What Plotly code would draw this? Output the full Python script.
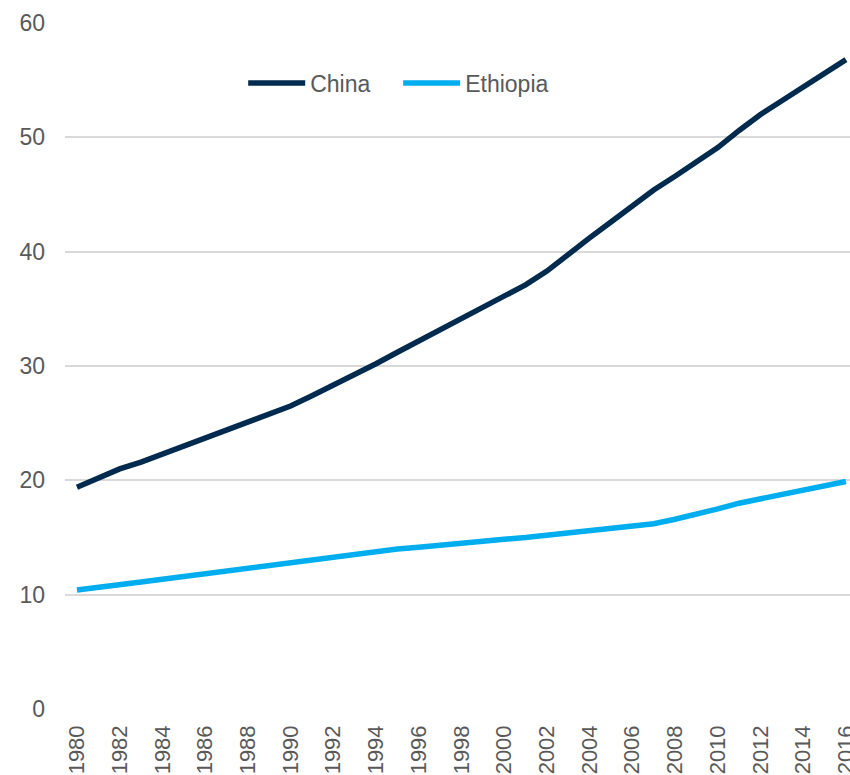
import plotly.graph_objects as go

years = list(range(1980, 2017))
china = [19.4, 20.2, 21.0, 21.6, 22.3, 23.0, 23.7, 24.4, 25.1, 25.8,
         26.5, 27.4, 28.3, 29.3, 30.2, 31.2, 32.2, 33.2, 34.2, 35.2,
         36.1, 37.1, 38.3, 39.8, 41.2, 42.6, 44.0, 45.4, 46.6, 47.8,
         49.1, 50.6, 52.0, 53.2, 54.4, 55.6, 56.8]
ethiopia = [10.4, 10.6, 10.85, 11.1, 11.35, 11.6, 11.85, 12.1, 12.35, 12.6,
            12.85, 13.1, 13.35, 13.55, 13.8, 14.0, 14.15, 14.35, 14.5, 14.7,
            14.85, 15.0, 15.2, 15.4, 15.6, 15.8, 16.0, 16.2, 16.6, 17.0,
            17.5, 18.0, 18.4, 18.8, 19.2, 19.55, 19.9]
tick_years = list(range(1980, 2017, 2))
y_ticks = [0, 10, 20, 30, 40, 50, 60]

FONT = "Liberation Sans, Arial, sans-serif"
GRAY = "#595959"

fig = go.Figure()
fig.add_trace(go.Scatter(x=years, y=china, mode="lines", name="China",
                         line=dict(color="#002A4E", width=5.5)))
fig.add_trace(go.Scatter(x=years, y=ethiopia, mode="lines", name="Ethiopia",
                         line=dict(color="#00AEEF", width=5.5)))

fig.update_layout(
    width=850, height=775,
    margin=dict(l=65, r=0, t=23, b=66, autoexpand=False),
    paper_bgcolor="white", plot_bgcolor="white",
    font=dict(family=FONT, size=23, color=GRAY),
    showlegend=True,
    legend=dict(orientation="h", x=0.227, xanchor="left", y=0.9125, yanchor="middle",
                font=dict(family=FONT, size=23, color=GRAY),
                itemwidth=57, entrywidth=83, bgcolor="rgba(0,0,0,0)", tracegroupgap=0),
    xaxis=dict(range=[1979.44, 2016.19], tickmode="array", tickvals=tick_years,
               ticktext=[str(t) for t in tick_years], tickangle=-90,
               showgrid=False, zeroline=False, showline=False, ticks="",
               ticklabelstandoff=11, ticklabeloverflow="allow", automargin=False,
               tickfont=dict(family=FONT, size=22, color=GRAY)),
    yaxis=dict(range=[0, 60], tickmode="array", tickvals=y_ticks,
               showgrid=True, gridcolor="#D9D9D9", gridwidth=1.5,
               zeroline=False, showline=False, ticks="",
               ticklabelstandoff=19, automargin=False,
               tickfont=dict(family=FONT, size=23, color=GRAY)),
)

fig.write_html("out.html")
